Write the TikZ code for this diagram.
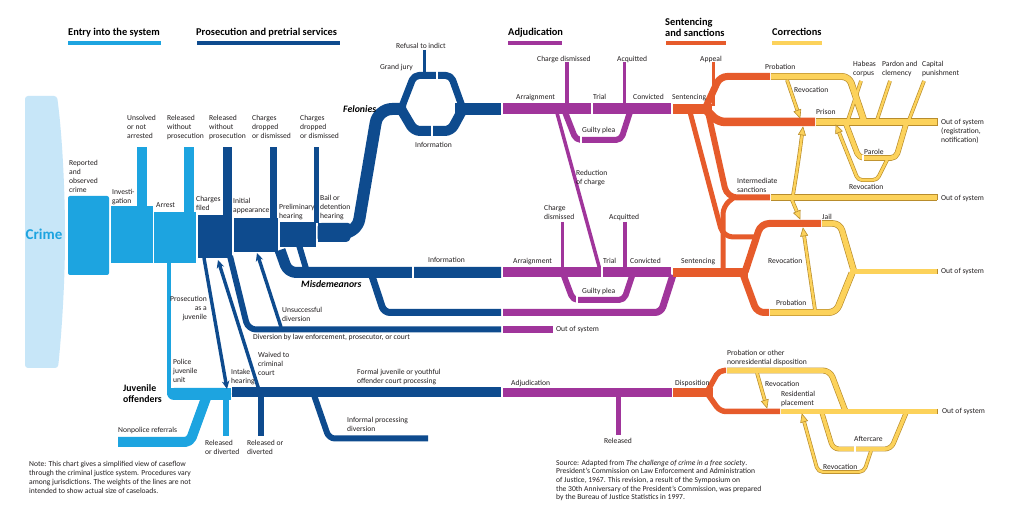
\documentclass[tikz,border=0pt]{standalone}
\usepackage{fontspec}
\setmainfont{Carlito}
\usetikzlibrary{arrows.meta,calc}
\definecolor{cbg}{HTML}{C7E6F8}
\definecolor{lb}{HTML}{1DA4E0}
\definecolor{db}{HTML}{0E4B8E}
\definecolor{pu}{HTML}{A0359B}
\definecolor{org}{HTML}{E65B2B}
\definecolor{yf}{HTML}{FCD25B}
\definecolor{yb}{HTML}{B88C2C}
\definecolor{tx}{HTML}{231F20}
\newcommand\ml[1]{\begin{tabular}[t]{@{}l@{}}#1\end{tabular}}
\newcommand\mr[1]{\begin{tabular}[t]{@{}r@{}}#1\end{tabular}}
\newcommand\ytip[2]{\filldraw[fill=yf,draw=yb,line width=0.6pt,line join=miter] (#1) -- ($(#1)!8pt!(#2)!3.6pt!90:(#1)$) -- ($(#1)!8pt!(#2)!3.6pt!-90:(#1)$) -- cycle;}
\newcommand\ypaths{%
 \draw[yl=5.6, rounded corners=7] (771,76.5) -- (849,76.5) -- (864,121);
 \draw[yl=6.8] (816,122) -- (937,122);
 \draw[yl=5.2] (771,197.5) -- (937,197.5);
 \draw[yl=4.4, rounded corners=5] (846,124) -- (859,158) -- (896,158) -- (906,124);
 \draw[yl=2.6, rounded corners=4, yarr] (887,160) -- (877,180) -- (858,180) -- (836,125);
 \draw[yl=2.4] (848,120) -- (861,81);
 \draw[yl=2.4] (877,120) -- (890,81);
 \draw[yl=2.4] (909,120) -- (924,81);
 \draw[yl=2.4, yarr] (787,80) -- (800,118);
 \draw[yl=2.4, rounded corners=20, yarr] (793,195) -- (798,165) -- (803,127);
 \draw[yl=2.4, yarr] (792,200) -- (800,219);
 \draw[yl=5.2, rounded corners=7] (822,223.5) -- (840,223.5) -- (854,271.5);
 \draw[yl=4.6] (850,271.5) -- (937,271.5);
 \draw[yl=5.6, rounded corners=7] (770,312.5) -- (836,312.5) -- (852,273);
 \draw[yl=2.4, yarr] (815,310) -- (803,228);
 \draw[yl=4.6, rounded corners=7] (727,370.5) -- (830,370.5) -- (845,410);
 \draw[yl=4.6] (781,411.5) -- (937,411.5);
 \draw[yl=2.4, yarr] (757,373) -- (767,408);
 \draw[yl=3.6, rounded corners=6] (822,413) -- (833,449) -- (891,449) -- (906,413);
 \draw[yl=2.4, rounded corners=5, yarr] (871,451) -- (864,472) -- (818,472) -- (802,414);
}
\begin{document}
\begin{tikzpicture}[x=1pt,y=-1pt, font=\fontsize{7.6}{8.7}\selectfont, line join=round,
  lab/.style={anchor=base west, inner sep=0pt, text=tx},
  labr/.style={anchor=base east, inner sep=0pt, text=tx},
  hd/.style={anchor=base west, inner sep=0pt, text=black, font=\bfseries\fontsize{10.4}{10}\selectfont},
  bi/.style={anchor=base west, inner sep=0pt, text=black, font=\bfseries\itshape\fontsize{9.8}{10}\selectfont},
  yarr/.style={shorten >=6pt},
  darr/.style={draw=db, line width=3.4, -{Stealth[length=8pt,width=7.5pt]}}]
\useasboundingbox (0,0) rectangle (1023,518);
\fill[white] (0,0) rectangle (1023,518);

% ---------- headers
\node[hd] (h1) at (68,36) {Entry into the system};
\fill[lb] (68,41) rectangle (161,45);
\node[hd] (h2) at (196,36) {Prosecution and pretrial services};
\fill[db] (197,41) rectangle (340,45);
\node[hd] (h3) at (508,36) {Adjudication};
\fill[pu] (508,41) rectangle (562,45);
\node[hd] (h4) at (665,26) {\ml{Sentencing\\and sanctions}};
\fill[org] (666,41) rectangle (726,45);
\node[hd] (h5) at (772,36) {Corrections};
\fill[yf] (772,41) rectangle (822,45);

% ---------- crime
\fill[cbg, rounded corners=3] (25,96) -- (57,96) .. controls (63,140) and (65,200) .. (65,235) .. controls (65,280) and (62,330) .. (58,368) -- (25,368) -- cycle;
\node[text=lb, font=\bfseries\fontsize{15}{15}\selectfont, inner sep=0pt] (crime) at (44,234) {Crime};

% ---------- entry (light blue)
\fill[lb, rounded corners=2] (68,196) rectangle (109,275);
\fill[lb] (110.5,206) rectangle (152.5,263);
\fill[lb] (137,147) rectangle (147,207);
\fill[lb] (154,212) rectangle (196,263);
\fill[lb] (184,147) rectangle (194,213);
\fill[lb] (167,262) rectangle (171,392);
\fill[lb, rounded corners=7] (167,388) rectangle (231,400);
\fill[lb] (167,388) rectangle (231,394);
\fill[lb] (222,388) rectangle (231,400);
\draw[lb, line width=10, rounded corners=5] (118,442) -- (190,442) -- (206,398);
\draw[lb, line width=6] (225.5,398) -- (225.5,436);

% ---------- prosecution (dark blue)
\fill[db] (197.5,215) rectangle (232,258);
\fill[db] (223,147) rectangle (232,216);
\fill[db] (233.5,218) rectangle (278,252);
\fill[db] (270,147) rectangle (277,219);
\fill[db] (279.5,222) rectangle (316,247);
\fill[db] (314,147) rectangle (319,223);
\fill[db, rounded corners=4] (317.5,223) -- (352,223) -- (350,242) -- (317.5,242) -- cycle;
\fill[db] (317.5,223) rectangle (330,242);
\draw[db, line width=12, rounded corners=14] (330,233) -- (357,233) -- (378,109) -- (406,109);
\draw[db, line width=7, rounded corners=5] (401,109) -- (414,75.5) -- (451,75.5) -- (463,109);
\draw[db, line width=10, rounded corners=6] (401,109) -- (414,131) -- (451,131) -- (463,109);
\draw[db, line width=12] (455,109) -- (501,109);
\draw[white, line width=1.2] (437,70) -- (437,81);
\draw[white, line width=1.2] (432,124) -- (432,138);
\draw[db, line width=3] (424.5,50) -- (424.5,74);
% misdemeanors
\draw[db, line width=11, rounded corners=8] (280,250) -- (288,272.5) -- (501,272.5);
\draw[db, line width=6, rounded corners=5] (299,245) -- (307,272);
\draw[white, line width=1.2] (413,266.5) -- (413,278.5);
\draw[db, line width=7, rounded corners=6] (372,276) -- (384,312.5) -- (501,312.5);
% diversion
\draw[db, line width=6, rounded corners=8] (230,256) -- (248,329.5) -- (501,329.5);
% juvenile
\draw[db, line width=10] (232,392.5) -- (501,392.5);
\draw[db, line width=6] (260.5,396) -- (260.5,436);
\draw[db, line width=6, rounded corners=6] (314,395) -- (329,438.5) -- (428,438.5);
% arrows
\draw[darr] (281,327) -- (257,253);
\draw[darr] (204,258) -- (227,389);
\draw[darr] (259,390) -- (218,260);

% ---------- adjudication (purple)
\draw[pu, line width=11] (503,108.5) -- (671,108.5);
\draw[white, line width=1.2] (592,102) -- (592,115);
\draw[pu, line width=3.5] (567,62) -- (567,104);
\draw[pu, line width=3.5] (624.5,62) -- (624.5,104);
\draw[pu, line width=6, rounded corners=5] (565,112) -- (576,140) -- (621,140) -- (630,112);
\draw[white, line width=1.2] (581,136) -- (581,144);
\draw[pu, line width=3.5] (557,113) -- (600,270);
\draw[pu, line width=10] (503,272.5) -- (671,272.5);
\draw[white, line width=1.2] (602,267) -- (602,278);
\draw[pu, line width=3.5] (562.5,222) -- (562.5,269);
\draw[pu, line width=3.5] (625,222) -- (625,269);
\draw[pu, line width=6, rounded corners=5] (564,276) -- (573,300) -- (624,300) -- (632,276);
\draw[white, line width=1.2] (577,296) -- (577,304);
\draw[pu, line width=7, rounded corners=6] (503,312.5) -- (661,312.5) -- (673,275);
\draw[pu, line width=6.5] (503,329.5) -- (553,329.5);
\draw[pu, line width=9] (503,392.5) -- (672,392.5);
\draw[pu, line width=5] (618,395) -- (618,435);

% ---------- sentencing (orange)
\draw[org, line width=10] (673,109) -- (712,109);
\draw[org, line width=3.5] (713.5,62) -- (713.5,106);
\draw[org, line width=7, rounded corners=7] (705,109) -- (720,76.5) -- (770,76.5);
\draw[org, line width=8.5, rounded corners=7] (705,109) -- (718,122) -- (815,122);
\draw[org, line width=6, rounded corners=10] (708,112) -- (727,197.5) -- (770,197.5);
\draw[org, line width=5, rounded corners=10] (690,112) -- (723,237) -- (756,237);
\draw[org, line width=9] (673,272.5) -- (748,272.5);
\draw[org, line width=5, rounded corners=8] (723,270) -- (723,206) -- (734,197.5);
\draw[org, line width=7, rounded corners=8] (745,272) -- (761,223.5) -- (821,223.5);
\draw[org, line width=7, rounded corners=7] (743,274) -- (757,312.5) -- (769,312.5);
\draw[org, line width=9] (673,392.5) -- (713,392.5);
\draw[org, line width=5.5, rounded corners=5] (707,392) -- (719,370.5) -- (726,370.5);
\draw[org, line width=5.5, rounded corners=6] (707,393) -- (720,411.5) -- (780,411.5);

% ---------- corrections (yellow)
\tikzset{yl/.style={draw=yb, line width=#1+1.3}}
\ypaths
\tikzset{yl/.style={draw=yf, line width=#1}}
\ypaths
\draw[white, line width=1.2] (863,155) -- (863,161);
\draw[white, line width=1.2] (855,446) -- (855,452);
\draw[yb, line width=0.6] (937.3,118.2) -- (937.3,125.8);
\draw[yb, line width=0.6] (937.3,194.5) -- (937.3,200.5);
\draw[yb, line width=0.6] (937.3,268.8) -- (937.3,274.2);
\draw[yb, line width=0.6] (937.3,408.8) -- (937.3,414.2);
\ytip{800,118}{787,80}
\ytip{803,127}{798,165}
\ytip{800,219}{792,200}
\ytip{803,228}{815,310}
\ytip{836,125}{858,180}
\ytip{767,408}{757,373}
\ytip{802,414}{818,472}

% ---------- labels: entry & prosecution
\node[lab] (l1) at (69,166) {\ml{Reported\\and\\observed\\crime}};
\node[lab] (l2) at (112,195) {\ml{Investi-\\gation}};
\node[lab] (l3) at (156,208) {Arrest};
\node[lab] (l4) at (127,121) {\ml{Unsolved\\or not\\arrested}};
\node[lab] (l5) at (167,121) {\ml{Released\\without\\prosecution}};
\node[lab] (l6) at (209,121) {\ml{Released\\without\\prosecution}};
\node[lab] (l7) at (252,121) {\ml{Charges\\dropped\\or dismissed}};
\node[lab] (l8) at (300,121) {\ml{Charges\\dropped\\or dismissed}};
\node[lab] (l9) at (196,202) {\ml{Charges\\filed}};
\node[lab] (l10) at (233,204) {\ml{Initial\\appearance}};
\node[lab] (l11) at (279,210) {\ml{Preliminary\\hearing}};
\node[lab] (l12) at (320,201) {\ml{Bail or\\detention\\hearing}};
\node[lab] (l13) at (396,49) {Refusal to indict};
\node[lab] (l14) at (380,70) {Grand jury};
\node[bi] (l15) at (343,113) {Felonies};
\node[lab] (l16) at (415,148) {Information};
\node[lab] (l17) at (428,263) {Information};
\node[bi] (l18) at (301,288) {Misdemeanors};
\node[lab] (l19) at (282,313) {\ml{Unsuccessful\\diversion}};
\node[lab] (l20) at (253,340) {Diversion by law enforcement, prosecutor, or court};
\node[labr] (l21) at (207,302) {\mr{Prosecution\\as a\\juvenile}};
\node[lab] (l22) at (173,365) {\ml{Police\\juvenile\\unit}};
\node[bi, font=\bfseries\fontsize{9.8}{10}\selectfont] (l23) at (123,392) {\ml{Juvenile\\offenders}};
\node[lab] (l24) at (118,433) {Nonpolice referrals};
\node[lab] (l25) at (231,375) {\ml{Intake\\hearing}};
\node[lab] (l26) at (258,358) {\ml{Waived to\\criminal\\court}};
\node[lab] (l27) at (357,375) {\ml{Formal juvenile or youthful\\offender court processing}};
\node[lab] (l28) at (347,423) {\ml{Informal processing\\diversion}};
\node[lab] (l29) at (247,446) {\ml{Released or\\diverted}};
\node[lab] (l30) at (205,446) {\ml{Released\\or diverted}};
\node[lab] (note) at (29,467) {\ml{Note: This chart gives a simplified view of caseflow\\through the criminal justice system. Procedures vary\\among jurisdictions. The weights of the lines are not\\intended to show actual size of caseloads.}};
\node[lab] (src) at (556,465) {\ml{Source: Adapted from \textit{The challenge of crime in a free society}.\\President’s Commission on Law Enforcement and Administration\\of Justice, 1967. This revision, a result of the Symposium on\\the 30th Anniversary of the President’s Commission, was prepared\\by the Bureau of Justice Statistics in 1997.}};

% ---------- labels: adjudication
\node[lab] (a1) at (537,62) {Charge dismissed};
\node[lab] (a2) at (617,62) {Acquitted};
\node[lab] (a3) at (516,100) {Arraignment};
\node[lab] (a4) at (593,100) {Trial};
\node[lab] (a5) at (633,100) {Convicted};
\node[lab] (a6) at (582,133) {Guilty plea};
\node[lab] (a7) at (576,176) {\ml{Reduction\\of charge}};
\node[lab] (a8) at (544,211) {\ml{Charge\\dismissed}};
\node[lab] (a9) at (609,220) {Acquitted};
\node[lab] (a10) at (513,264) {Arraignment};
\node[lab] (a11) at (603,264) {Trial};
\node[lab] (a12) at (630,264) {Convicted};
\node[lab] (a13) at (582,294) {Guilty plea};
\node[lab] (a14) at (556,332) {Out of system};
\node[lab] (a15) at (511,386) {Adjudication};
\node[lab] (a16) at (604,443) {Released};

% ---------- labels: sentencing & corrections
\node[lab] (s1) at (700,62) {Appeal};
\node[lab] (s2) at (672,100) {Sentencing};
\node[lab] (s3) at (765,70) {Probation};
\node[lab] (s4) at (794,93) {Revocation};
\node[lab] (s5) at (816,115) {Prison};
\node[lab] (s6) at (853,67) {\ml{Habeas\\corpus}};
\node[lab] (s7) at (882,67) {\ml{Pardon and\\clemency}};
\node[lab] (s8) at (922,67) {\ml{Capital\\punishment}};
\node[lab] (s9) at (941,125) {\ml{Out of system\\(registration,\\notification)}};
\node[lab] (s10) at (864,155) {Parole};
\node[lab] (s11) at (849,190) {Revocation};
\node[lab] (s12) at (737,184) {\ml{Intermediate\\sanctions}};
\node[lab] (s13) at (941,201) {Out of system};
\node[lab] (s14) at (822,220) {Jail};
\node[lab] (s15) at (681,264) {Sentencing};
\node[lab] (s16) at (768,264) {Revocation};
\node[lab] (s17) at (941,274) {Out of system};
\node[lab] (s18) at (776,306) {Probation};
\node[lab] (s19) at (727,356) {\ml{Probation or other\\nonresidential disposition}};
\node[lab] (s20) at (675,386) {Disposition};
\node[lab] (s21) at (765,387) {Revocation};
\node[lab] (s22) at (781,397) {\ml{Residential\\placement}};
\node[lab] (s23) at (942,414) {Out of system};
\node[lab] (s24) at (854,442) {Aftercare};
\node[lab] (s25) at (823,469) {Revocation};
\end{tikzpicture}
\end{document}
